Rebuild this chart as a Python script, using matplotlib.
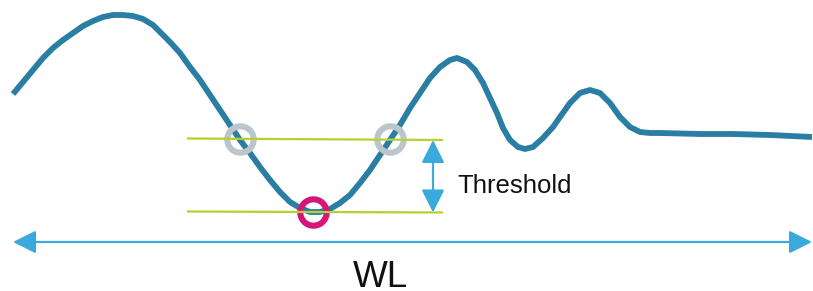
import matplotlib.pyplot as plt

# curve (pixel coords, y grows downward)
curve_x = [13, 23, 33, 43, 53, 63, 73, 83, 93, 103, 113, 123, 133, 143, 153,
           160, 170, 180, 190, 200, 210, 220, 230, 240, 250, 260, 270, 280,
           290, 300, 310, 320, 330, 340, 350, 360, 370, 380, 390, 400, 410,
           420, 430, 440, 450, 457, 467, 475, 483, 490, 497, 503, 510, 518,
           525, 533, 543, 553, 560, 570, 580, 590, 600, 610, 620, 630, 640,
           650, 660, 700, 733, 770, 812]
curve_y = [94, 82, 70, 58, 48, 40, 33, 26, 21, 17, 15, 15, 16, 19, 25,
           32, 42, 53, 67, 80, 95, 110, 125, 140, 153, 167, 180, 192,
           202, 208, 212, 212, 209, 203, 195, 183, 170, 155, 140, 125, 108,
           93, 78, 67, 60, 58, 62, 70, 83, 98, 113, 128, 140, 147,
           149, 147, 138, 127, 117, 103, 93, 90, 93, 103, 117, 127, 132,
           133, 133, 134, 134, 135, 137]

thr_x = [188, 442]
thr_upper = [138.5, 140]
thr_lower = [211.5, 212.5]

cross_x = [240, 390]
cross_y = [139, 139]
min_x = [313]
min_y = [212]

wl_range = [13, 812]
wl_y = 242
thr_arrow_x = 433

blue = '#2a7ea3'
green = '#b8cf2c'
arrow_col = '#3aa9dc'

fig = plt.figure(figsize=(8.13, 2.91), dpi=100)
ax = fig.add_axes([0, 0, 1, 1])
ax.set_xlim(0, 813)
ax.set_ylim(291, 0)
ax.axis('off')

ax.plot(curve_x, curve_y, color=blue, lw=4.2, solid_capstyle='butt',
        solid_joinstyle='round', zorder=2)

ax.plot(cross_x, cross_y, 'o', ms=19, mfc='none', mec='#bcc5cc', mew=4.4, zorder=3)
ax.plot(min_x, min_y, 'o', ms=19, mfc='none', mec='#d4157a', mew=4.4, zorder=3)

ax.plot(thr_x, thr_upper, color=green, lw=1.6, zorder=4)
ax.plot(thr_x, thr_lower, color=green, lw=1.6, zorder=4)

style = '<|-|>,head_length=1.4,head_width=0.7'
ax.annotate('', xy=(thr_arrow_x, thr_upper[1]), xytext=(thr_arrow_x, thr_lower[1]),
            arrowprops=dict(arrowstyle=style, mutation_scale=10, color=arrow_col,
                            lw=1.6, shrinkA=0, shrinkB=0))
ax.annotate('', xy=(wl_range[1], wl_y), xytext=(wl_range[0], wl_y),
            arrowprops=dict(arrowstyle=style, mutation_scale=10, color=arrow_col,
                            lw=1.6, shrinkA=0, shrinkB=0))

ax.text(457, 193, 'Threshold', fontsize=18.5, family='Liberation Sans',
        ha='left', va='baseline', color='#111111')
ax.text(380, 287, 'WL', fontsize=26.6, family='Liberation Sans',
        ha='center', va='baseline', color='#111111')

fig.savefig('out.png', dpi=100)
